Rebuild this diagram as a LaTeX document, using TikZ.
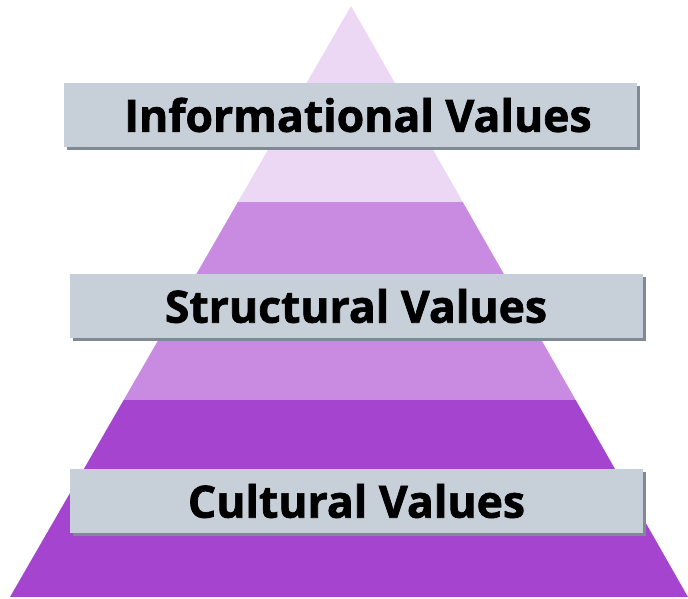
\documentclass[tikz,border=0pt]{standalone}
\usepackage{fontspec}
\setmainfont{Open Sans}[BoldFeatures={FakeBold=1.5}]
\usetikzlibrary{shadows}

\definecolor{toplayer}{HTML}{ECD8F4}
\definecolor{midlayer}{HTML}{C98BE2}
\definecolor{baselayer}{HTML}{A545CF}
\definecolor{boxgray}{HTML}{C7CFD8}
\definecolor{shadowgray}{HTML}{7F8A94}

\begin{document}
\begin{tikzpicture}[x=1pt, y=1pt,
    valuebox/.style={rectangle, fill=boxgray, minimum width=573pt, minimum height=64pt,
        inner sep=0pt, font=\fontsize{44.5}{52}\selectfont\bfseries,
        drop shadow={shadow xshift=3pt, shadow yshift=-3pt, fill=shadowgray, opacity=1}}]
    \useasboundingbox (0,0) rectangle (688,599);

    % pyramid layers
    \coordinate (apex) at (351,593);
    \coordinate (left) at (10,2);
    \coordinate (right) at (688,2);
    \begin{scope}
        \clip (apex) -- (left) -- (right) -- cycle;
        \fill[toplayer] (0,397) rectangle (688,599);
        \fill[midlayer] (0,199) rectangle (688,397);
        \fill[baselayer] (0,0) rectangle (688,199);
    \end{scope}

    \node[valuebox] (info) at (350.5,484) {\hspace{15pt}Informational Values};
    \node[valuebox] (struct) at (356,293) {Structural Values\hspace{10pt}};
    \node[valuebox] (cult) at (356.5,98) {Cultural Values};
\end{tikzpicture}
\end{document}
